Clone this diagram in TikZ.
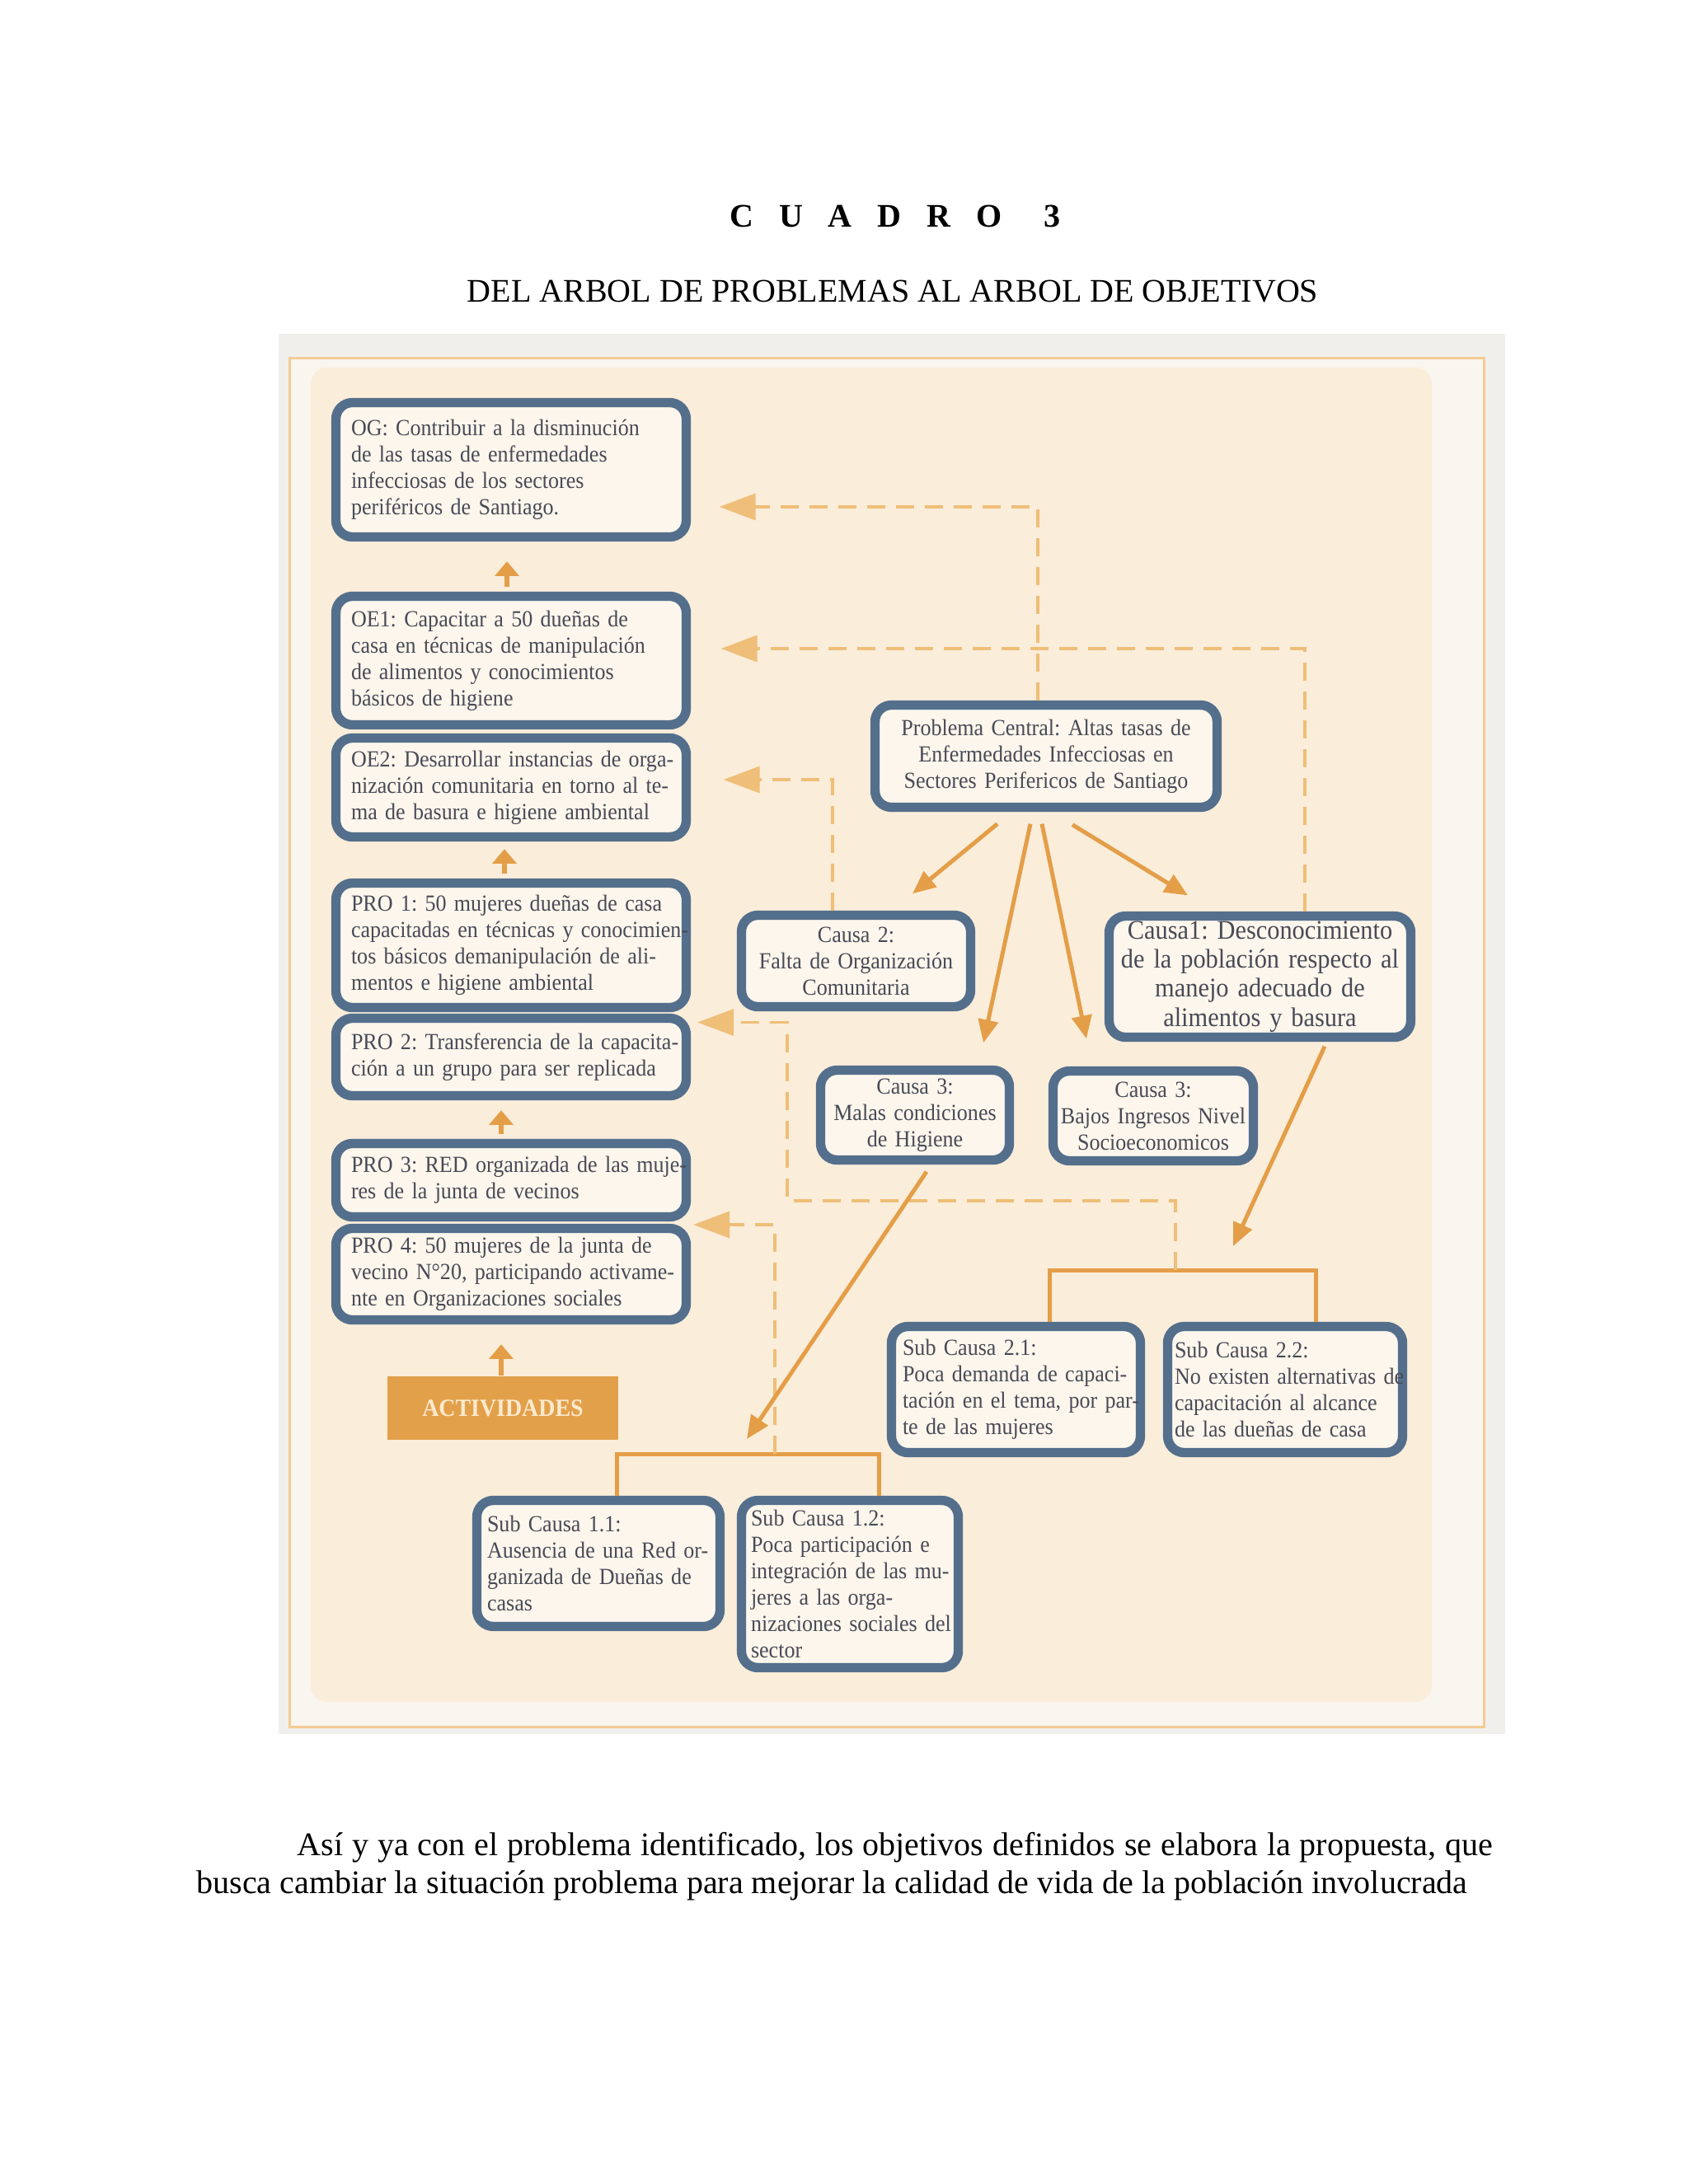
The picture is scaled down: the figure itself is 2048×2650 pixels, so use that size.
\documentclass[tikz,border=0pt]{standalone}
\usepackage{fontspec}
\setmainfont{Liberation Serif}
\newfontfamily\bxfont[FakeStretch=0.93]{Liberation Serif}
\usetikzlibrary{arrows.meta}
\newdimen\pxu
\pxu=0.29996pt
\definecolor{boxblue}{RGB}{84,111,140}
\definecolor{boxfill}{RGB}{252,246,236}
\definecolor{panelcol}{RGB}{250,237,218}
\definecolor{outerfill}{RGB}{249,245,239}
\definecolor{scancol}{RGB}{241,239,236}
\definecolor{frameor}{RGB}{243,203,148}
\definecolor{arrcol}{RGB}{228,158,72}
\definecolor{dashcol}{RGB}{239,190,120}
\definecolor{txtcol}{RGB}{72,74,86}
\definecolor{actfill}{RGB}{227,160,74}
\definecolor{acttext}{RGB}{252,234,206}
\newcommand\jl[1]{\makebox[\hsize][s]{#1}}
\newcommand\lft[1]{\makebox[\hsize][l]{#1}}
\begin{document}
\frenchspacing
\begin{tikzpicture}[x=0.29996pt, y=-0.29996pt,
  box/.style={draw=boxblue, line width=3.4pt, fill=boxfill, rounded corners=6pt,
    inner sep=0pt, text=txtcol, font=\bxfont\fontsize{8.4}{9.6}\selectfont},
  lbox/.style={box, text width=388\pxu, align=left, minimum width=425\pxu},
  cbox/.style={box, align=center},
  sbox/.style={box, align=left},
  solidarr/.style={draw=arrcol, line width=1.5pt, -{Triangle[length=8.4pt,width=7.2pt]}},
  uparr/.style={draw=arrcol, line width=1.8pt, -{Triangle[length=5.3pt,width=8.6pt]}},
  dasharr/.style={draw=dashcol, line width=1.05pt, dash pattern=on 6.6pt off 3.9pt,
    -{Triangle[length=13.2pt,width=9.6pt]}},
  brk/.style={draw=arrcol, line width=1.5pt},
  pagetext/.style={inner sep=0pt, font=\fontsize{12}{14}\selectfont}
]
\fill[white] (0,0) rectangle (2048,2650);
\useasboundingbox (0,0) rectangle (2048,2650);

% page titles
\node[pagetext, anchor=base west, font=\bfseries\fontsize{12}{14}\selectfont] (title) at (884.5,275)
  {C\hspace{9.3pt}U\hspace{9.3pt}A\hspace{9.3pt}D\hspace{9.3pt}R\hspace{9.3pt}O\hspace{15.1pt}3};
\node[pagetext, anchor=base] (subtitle) at (1083,366) {DEL ARBOL DE PROBLEMAS AL ARBOL DE OBJETIVOS};

% scanned figure background
\fill[scancol] (338,405) rectangle (1826,2104);
\draw[frameor, line width=0.9pt, fill=outerfill] (351,434) rectangle (1800,2095);
\fill[panelcol, rounded corners=6pt] (377,446) rectangle (1737,2065);

% left column
\node[lbox, minimum height=163\pxu] (OG) at (620,570)
  {\lft{OG: Contribuir a la disminución}\\\lft{de las tasas de enfermedades}\\\lft{infecciosas de los sectores}\\\lft{periféricos de Santiago.}};
\node[lbox, minimum height=156\pxu] (OE1) at (620,801.5)
  {\lft{OE1: Capacitar a 50 dueñas de}\\\lft{casa en técnicas de manipulación}\\\lft{de alimentos y conocimientos}\\\lft{básicos de higiene}};
\node[lbox, minimum height=120\pxu] (OE2) at (620,955.5)
  {\jl{OE2: Desarrollar instancias de orga-}\\\jl{nización comunitaria en torno al te-}\\\lft{ma de basura e higiene ambiental}};
\node[lbox, minimum height=151\pxu] (PRO1) at (620,1147)
  {\lft{PRO 1: 50 mujeres dueñas de casa}\\\lft{capacitadas en técnicas y conocimien-}\\\jl{tos básicos demanipulación de ali-}\\\lft{mentos e higiene ambiental}};
\node[lbox, minimum height=94\pxu] (PRO2) at (620,1282.5)
  {\jl{PRO 2: Transferencia de la capacita-}\\\lft{ción a un grupo para ser replicada}};
\node[lbox, minimum height=89\pxu] (PRO3) at (620,1432)
  {\jl{PRO 3: RED organizada de las muje-}\\\lft{res de la junta de vecinos}};
\node[lbox, minimum height=111\pxu] (PRO4) at (620,1546)
  {\lft{PRO 4: 50 mujeres de la junta de}\\\jl{vecino N°20, participando activame-}\\\lft{nte en Organizaciones sociales}};
\node[fill=actfill, text=acttext, inner sep=0pt, minimum width=280\pxu, minimum height=77\pxu,
  font=\bxfont\bfseries\fontsize{9}{10}\selectfont] (ACT) at (610,1708.5) {ACTIVIDADES};

% centre / right
\node[cbox, text width=380\pxu, minimum width=415\pxu, minimum height=124\pxu] (PC) at (1269,917.5)
  {Problema Central: Altas tasas de\\Enfermedades Infecciosas en\\Sectores Perifericos de Santiago};
\node[cbox, text width=260\pxu, minimum width=278\pxu, minimum height=111\pxu] (C2) at (1038.5,1166)
  {Causa 2:\\Falta de Organización\\Comunitaria};
\node[cbox, text width=350\pxu, minimum width=366\pxu, minimum height=147\pxu,
  font=\bxfont\fontsize{9.8}{10.6}\selectfont] (C1) at (1528.5,1185)
  {Causa1: Desconocimiento\\de la población respecto al\\manejo adecuado de\\alimentos y basura};
\node[cbox, text width=215\pxu, minimum width=229\pxu, minimum height=109\pxu] (C3a) at (1110,1353)
  {Causa 3:\\Malas condiciones\\de Higiene};
\node[cbox, text width=235\pxu, minimum width=243\pxu, minimum height=109\pxu] (C3b) at (1399,1354)
  {Causa 3:\\Bajos Ingresos Nivel\\Socioeconomicos};

% sub causes
\node[sbox, text width=275\pxu, minimum width=302\pxu, minimum height=153\pxu] (S21) at (1232.5,1686)
  {\lft{Sub Causa 2.1:}\\\jl{Poca demanda de capaci-}\\\jl{tación en el tema, por par-}\\\lft{te de las mujeres}};
\node[sbox, text width=268\pxu, minimum width=285\pxu, minimum height=153\pxu] (S22) at (1559,1686)
  {\lft{Sub Causa 2.2:}\\\jl{No existen alternativas de}\\\jl{capacitación al alcance}\\\lft{de las dueñas de casa}};
\node[sbox, text width=270\pxu, minimum width=295\pxu, minimum height=153\pxu] (S11) at (726,1897)
  {\lft{Sub Causa 1.1:}\\\jl{Ausencia de una Red or-}\\\jl{ganizada de Dueñas de}\\\lft{casas}};
\node[sbox, text width=240\pxu, minimum width=263\pxu, minimum height=203\pxu] (S12) at (1031,1922)
  {\lft{Sub Causa 1.2:}\\\jl{Poca participación e}\\\jl{integración de las mu-}\\\jl{jeres a las orga-}\\\jl{nizaciones sociales del}\\\lft{sector}};

% bracket junctions
\coordinate (b1) at (940,1764);
\coordinate (b2) at (1426,1541);

% brackets
\draw[brk] ([shift={(22,0)}]S11.north) |- (b1) -| ([shift={(35,0)}]S12.north);
\draw[brk] ([shift={(40.5,0)}]S21.north) |- (b2) -| ([shift={(37,0)}]S22.north);

% up arrows in left column
\draw[uparr] ([shift={(-5,-6)}]OE1.north) -- ([shift={(-5,24)}]OG.south);
\draw[uparr] ([shift={(-8,-6)}]PRO1.north) -- ([shift={(-8,9)}]OE2.south);
\draw[uparr] ([shift={(-12,-6)}]PRO3.north) -- ([shift={(-12,12)}]PRO2.south);
\draw[uparr] ([shift={(-2,0)}]ACT.north) -- ([shift={(-12,24)}]PRO4.south);

% dashed correspondences
\draw[dasharr] ([shift={(-10,0)}]PC.north) |- ([shift={(34.5,45)}]OG.east);
\draw[dasharr] ([shift={(54.5,0)}]C1.north) |- ([shift={(36.5,-14.5)}]OE1.east);
\draw[dasharr] ([shift={(-28.5,0)}]C2.north) |- ([shift={(39.5,-9.5)}]OE2.east);
\draw[dasharr] (b2) |- (955,1457) |- ([shift={(8,-42)}]PRO2.east);
\draw[dasharr] (b1) |- ([shift={(3,-60)}]PRO4.east);

% solid arrows
\draw[solidarr] ([shift={(-59,14.5)}]PC.south) -- ([shift={(68.5,-20.5)}]C2.north);
\draw[solidarr] ([shift={(-19,14.5)}]PC.south) -- ([shift={(83,-27.5)}]C3a.north);
\draw[solidarr] ([shift={(-5,14.5)}]PC.south) -- ([shift={(-81,-33.5)}]C3b.north);
\draw[solidarr] ([shift={(32,15.5)}]PC.south) -- ([shift={(-87.5,-19.5)}]C1.north);
\draw[solidarr] ([shift={(14,8.5)}]C3a.south) -- ([shift={(-34,-18)}]b1);
\draw[solidarr] ([shift={(78.5,5.5)}]C1.south) -- ([shift={(70,-29)}]b2);

% body text
\node[pagetext, anchor=base west] (p1) at (360,2251)
  {\makebox[435pt][s]{Así y ya con el problema identificado, los objetivos definidos se elabora la propuesta, que}};
\node[pagetext, anchor=base west] (p2) at (238,2297)
  {busca cambiar la situación problema para mejorar la calidad de vida de la población involucrada};
\end{tikzpicture}
\end{document}
